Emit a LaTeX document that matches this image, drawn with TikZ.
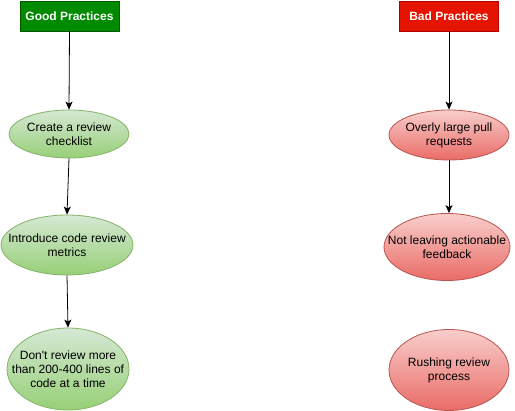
\documentclass[tikz,border=0pt]{standalone}
\usepackage{fontspec}
\setmainfont{Liberation Sans}
\usetikzlibrary{shapes.geometric,arrows.meta}
\definecolor{goodfill}{HTML}{008A00}
\definecolor{goodline}{HTML}{005700}
\definecolor{badfill}{HTML}{E51400}
\definecolor{badline}{HTML}{B20000}
\definecolor{gtop}{HTML}{D5E8D4}
\definecolor{gbot}{HTML}{97D077}
\definecolor{gline}{HTML}{82B366}
\definecolor{rtop}{HTML}{F8CECC}
\definecolor{rbot}{HTML}{EA6B66}
\definecolor{rline}{HTML}{B85450}
\tikzset{
  header/.style={draw, line width=0.8pt, minimum width=99pt, minimum height=30pt,
    inner sep=0pt, text=white, font=\fontsize{12}{14}\selectfont\bfseries},
  goodhead/.style={header, fill=goodfill, draw=goodline},
  badhead/.style={header, fill=badfill, draw=badline},
  % negative inner sep so that the given minimum size fixes the ellipse
  oval/.style={ellipse, inner xsep=-40pt, inner ysep=-30pt, line width=0.8pt, align=center,
    font=\fontsize{12}{14}\selectfont},
  goodoval/.style={oval, draw=gline, top color=gtop, bottom color=gbot},
  badoval/.style={oval, draw=rline, top color=rtop, bottom color=rbot},
  flow/.style={draw=black, line width=0.8pt, -{Stealth[length=8pt,width=7pt,inset=2pt]}}
}
\begin{document}
\begin{tikzpicture}[x=1pt,y=-1pt]
\useasboundingbox (0,0) rectangle (515,411);
% good practices column
\node[goodhead] (good) at (69.5,16) {Good Practices};
\node[goodoval, minimum width=120pt, minimum height=48pt] (g1) at (69,134) {Create a review\\checklist};
\node[goodoval, minimum width=132pt, minimum height=60pt] (g2) at (67,245) {Introduce code review\\metrics};
\node[goodoval, minimum width=122pt, minimum height=82pt] (g3) at (68,369) {Don\textquotesingle t review more\\than 200-400 lines of\\code at a time};
% bad practices column
\node[badhead] (bad) at (449,16) {Bad Practices};
\node[badoval, minimum width=120pt, minimum height=50pt] (b1) at (449,135) {Overly large pull\\requests};
\node[badoval, minimum width=126pt, minimum height=67pt] (b2) at (447,247) {Not leaving actionable\\feedback};
\node[badoval, minimum width=120pt, minimum height=81pt] (b3) at (449,370) {Rushing review\\process};
% connectors
\draw[flow] (good.south) -- (g1.north);
\draw[flow] (g1.south) -- (g2.north);
\draw[flow] (g2.south) -- (g3.north);
\draw[flow] (bad.south) -- (b1.north);
\draw[flow] (b1.south) -- (b1.south |- b2.north);
\end{tikzpicture}
\end{document}
